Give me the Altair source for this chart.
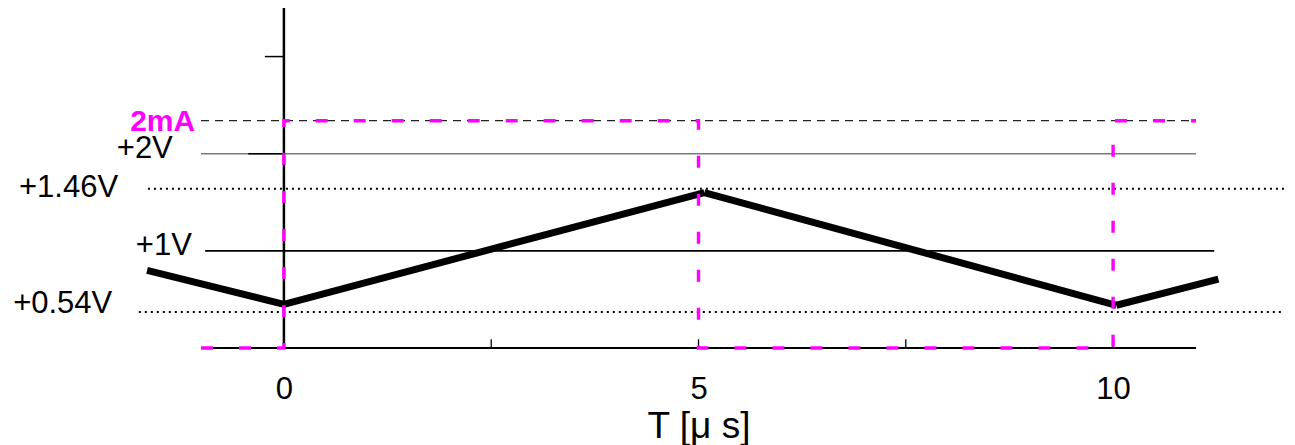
import altair as alt
import pandas as pd

# ---- data (drawing units: +1V / +2V lines at 1 and 2) ----
x_domain = [-1, 11]
y_domain = [0, 3.5]
x_ticks = [0, 5, 10]
x_minor_ticks = [2.5, 5, 7.5, 10]
minor_tick_len = 0.09

# triangle voltage waveform
wave_t = [-1.65, 0.0, 5.07, 10.04, 11.27]
wave_v = [0.80, 0.45, 1.60, 0.44, 0.71]

# current square wave (pink dashed), 2 mA level
cur_t = [-1, 0, 0, 5, 5, 10, 10, 11]
cur_i = [0, 0, 2.34, 2.34, 0, 0, 2.34, 2.34]

# reference levels
lvl_names = ["2mA", "+2V", "+1.46V", "+1V", "+0.54V"]
lvl_y = [2.34, 2.0, 1.64, 1.0, 0.37]
lvl_x0 = [-1.0, -1.0, -1.64, -0.95, -1.75]
lvl_x1 = [11.0, 11.0, 12.16, 11.22, 12.05]
lvl_style = ["dashed", "gray", "dotted", "solid", "dotted"]

# label anchors (right edge, baseline)
lab_x = [-1.07, -1.34, -2.0, -1.11, -2.07]
lab_y = [2.23, 1.96, 1.55, 0.96, 0.36]

# y-axis short ticks
ytick_y = [3.0, 2.0]
ytick_x0 = [-0.23, -0.43]

# axis lines
yaxis_top = 3.5
xaxis_x0, xaxis_x1 = -1, 11

FONT = "Liberation Sans"

xscale = alt.Scale(domain=x_domain, nice=False, zero=False)
yscale = alt.Scale(domain=y_domain, nice=False, zero=False)
xaxis = alt.Axis(values=x_ticks, domain=False, ticks=False, tickSize=0, grid=False,
                 labelFontSize=31, labelFont=FONT, labelColor="black", labelPadding=26,
                 labelFlush=False, labelOverlap=False, format="d",
                 title="T [μ s]", titleFontSize=37, titleFont=FONT,
                 titleFontWeight="normal", titleColor="black", titlePadding=4)


def X(f="x"):
    return alt.X(f"{f}:Q", scale=xscale, axis=xaxis)


def Y(f="y"):
    return alt.Y(f"{f}:Q", scale=yscale, axis=None)


levels = pd.DataFrame({"name": lvl_names, "y": lvl_y, "x": lvl_x0, "x2": lvl_x1,
                       "style": lvl_style, "lx": lab_x, "ly": lab_y})

wave_rows = []
for k in range(len(wave_t) - 1):
    wave_rows.append({"seg": k, "i": 0, "x": wave_t[k], "y": wave_v[k]})
    wave_rows.append({"seg": k, "i": 1, "x": wave_t[k + 1], "y": wave_v[k + 1]})
wave = pd.DataFrame(wave_rows)

cur = pd.DataFrame({"x": cur_t, "y": cur_i, "i": list(range(len(cur_t)))})

minor = pd.DataFrame({"x": x_minor_ticks, "y": [0] * len(x_minor_ticks),
                      "y2": [minor_tick_len] * len(x_minor_ticks)})
yticks = pd.DataFrame({"x": ytick_x0, "x2": [0] * len(ytick_x0), "y": ytick_y})
axes_lines = pd.DataFrame({"x": [xaxis_x0], "x2": [xaxis_x1], "y": [0]})
yaxis_line = pd.DataFrame({"x": [0], "y": [0], "y2": [yaxis_top]})

base_lv = alt.Chart(levels)

dashed = base_lv.transform_filter("datum.style == 'dashed'").mark_rule(
    color="#222222", strokeWidth=1.2, strokeDash=[8, 6]).encode(x=X(), x2="x2", y=Y())
gray = base_lv.transform_filter("datum.style == 'gray'").mark_rule(
    color="#7a7a7a", strokeWidth=1.6).encode(x=X(), x2="x2", y=Y())
solid = base_lv.transform_filter("datum.style == 'solid'").mark_rule(
    color="black", strokeWidth=1.8).encode(x=X(), x2="x2", y=Y())
dotted = base_lv.transform_filter("datum.style == 'dotted'").mark_rule(
    color="black", strokeWidth=2, strokeDash=[2, 4]).encode(x=X(), x2="x2", y=Y())

pink_lab = base_lv.transform_filter("datum.name == '2mA'").mark_text(
    align="right", baseline="alphabetic", font=FONT, fontSize=30, fontWeight="bold",
    color="#ff00ff").encode(x=X("lx"), y=Y("ly"), text="name:N")
black_lab = base_lv.transform_filter("datum.name != '2mA'").mark_text(
    align="right", baseline="alphabetic", font=FONT, fontSize=31,
    color="black").encode(x=X("lx"), y=Y("ly"), text="name:N")

xline = alt.Chart(axes_lines).mark_rule(color="black", strokeWidth=2).encode(
    x=X(), x2="x2", y=Y())
yline = alt.Chart(yaxis_line).mark_rule(color="black", strokeWidth=2.5).encode(
    x=X(), y=Y(), y2="y2")
minor_t = alt.Chart(minor).mark_rule(color="black", strokeWidth=1.3).encode(
    x=X(), y=Y(), y2="y2")
ytk = alt.Chart(yticks).mark_rule(color="black", strokeWidth=1.5).encode(
    x=X(), x2="x2", y=Y())

wave_l = alt.Chart(wave).mark_line(color="black", strokeWidth=7, strokeCap="butt").encode(
    x=X(), y=Y(), detail="seg:N", order="i:Q")

cur_l = alt.Chart(cur).mark_line(color="#ff00ff", strokeWidth=3.4, strokeDash=[12, 26],
                                 strokeCap="butt").encode(
    x=X(), y=Y(), order="i:Q")

chart = alt.layer(
    gray, solid, dotted, dashed, xline, yline, minor_t, ytk, wave_l, cur_l, pink_lab, black_lab
).properties(
    width=995, height=340,
    background="white",
    autosize=alt.AutoSizeParams(type="none"),
    padding={"left": 193, "top": 0, "right": 91, "bottom": 97},
).configure_view(strokeWidth=0, stroke=None)

chart.save("out.html", embed_options={"renderer": "svg", "actions": False})
